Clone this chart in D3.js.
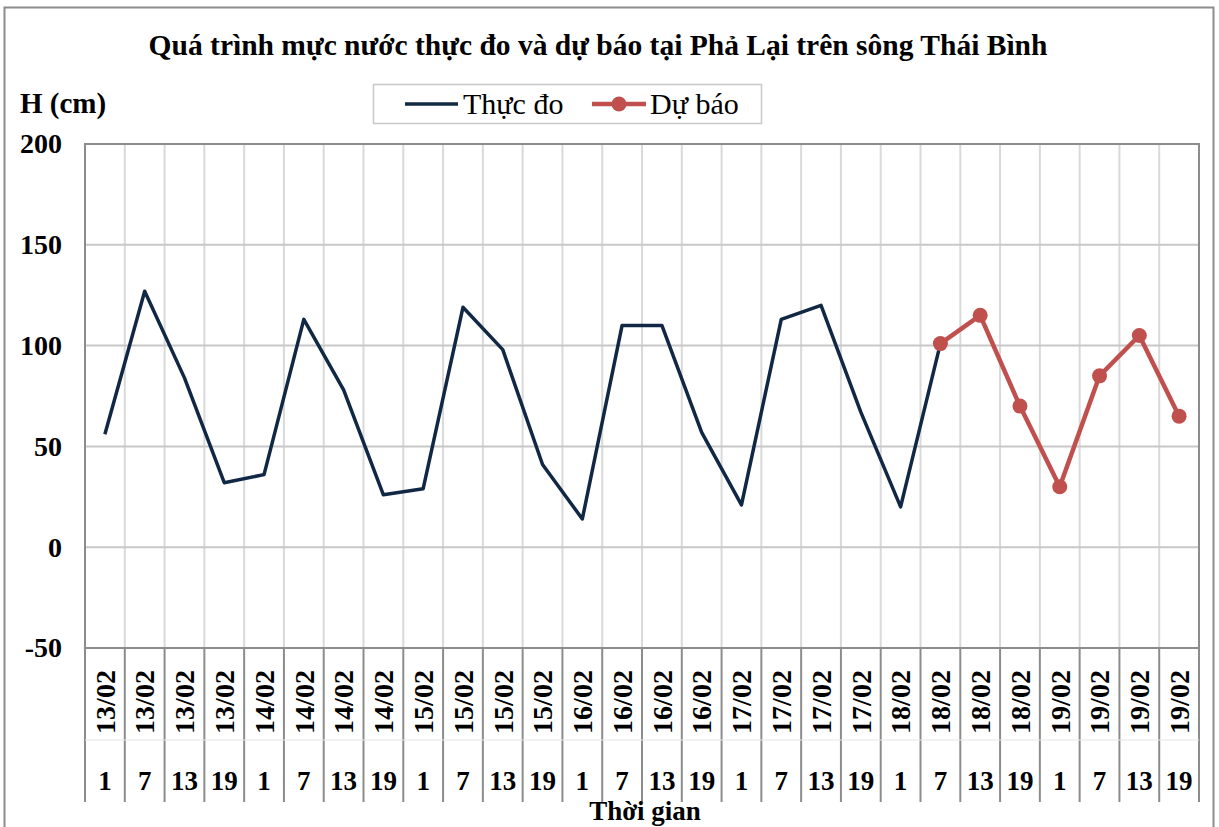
<!DOCTYPE html>
<html><head><meta charset="utf-8">
<script src="https://cdn.jsdelivr.net/npm/d3@7"></script>
<style>body{margin:0;background:#fff}svg{display:block}text{font-family:"Liberation Serif","Times New Roman",serif}</style>
</head><body>
<svg id="c" width="1219" height="827"></svg>
<script>
const dates = ["13/02","13/02","13/02","13/02","14/02","14/02","14/02","14/02","15/02","15/02","15/02","15/02","16/02","16/02","16/02","16/02","17/02","17/02","17/02","17/02","18/02","18/02","18/02","18/02","19/02","19/02","19/02","19/02"];
const hours = ["1","7","13","19","1","7","13","19","1","7","13","19","1","7","13","19","1","7","13","19","1","7","13","19","1","7","13","19"];
const observed = [56,127,84,32,36,113,78,26,29,119,98,41,14,110,110,57,21,113,120,67,20,101,null,null,null,null,null,null];
const forecast = [null,null,null,null,null,null,null,null,null,null,null,null,null,null,null,null,null,null,null,null,null,101,115,70,30,85,105,65];
const yTicks = [-50,0,50,100,150,200];
const title = "Quá trình mực nước thực đo và dự báo tại Phả Lại trên sông Thái Bình";

const svg = d3.select("#c");
const L = 85, R = 1199, T = 144, B = 648;
const idx = d3.range(dates.length);
const x = d3.scaleBand().domain(idx).range([L, R]);
const y = d3.scaleLinear().domain([-50, 200]).range([B, T]);

// outer border
svg.append("rect").attr("x",4.5).attr("y",7.5).attr("width",1209).attr("height",830).attr("fill","none").attr("stroke","#8c8c8c").attr("stroke-width",2);

// title
svg.append("text").attr("x",598).attr("y",55).attr("text-anchor","middle").attr("font-weight","bold").attr("font-size",29.5).text(title);
svg.append("text").attr("x",20).attr("y",113).attr("font-weight","bold").attr("font-size",29).text("H (cm)");

// gridlines
const g = svg.append("g");
g.selectAll(".vg").data(idx.slice(1)).join("line")
 .attr("x1",d=>x(d)).attr("x2",d=>x(d)).attr("y1",T).attr("y2",B)
 .attr("stroke","#d9d9d9").attr("stroke-width",2);
g.selectAll(".hg").data(yTicks).join("line")
 .attr("x1",L).attr("x2",R).attr("y1",d=>y(d)).attr("y2",d=>y(d))
 .attr("stroke","#c8c8c8").attr("stroke-width",2);

// plot border
svg.append("rect").attr("x",L).attr("y",T).attr("width",R-L).attr("height",B-T).attr("fill","none").attr("stroke","#8c8c8c").attr("stroke-width",2);

// y axis
const ya = svg.append("g").attr("transform",`translate(${L},0)`)
 .call(d3.axisLeft(y).tickValues(yTicks).tickSize(0).tickPadding(23).tickFormat(d=>String(d)));
ya.select(".domain").remove();
ya.selectAll("text").attr("font-family","Liberation Serif").attr("font-weight","bold").attr("font-size",28).attr("fill","#000");

// x axis separators
svg.selectAll(".xs").data(idx.concat([dates.length])).join("line")
 .attr("x1",d=>d<dates.length?x(d):R).attr("x2",d=>d<dates.length?x(d):R)
 .attr("y1",B).attr("y2",802).attr("stroke","#8c8c8c").attr("stroke-width",2);
svg.append("line").attr("x1",L).attr("x2",R).attr("y1",740).attr("y2",740).attr("stroke","#e6e6e6").attr("stroke-width",1);

const xa = svg.append("g").attr("transform",`translate(0,${B})`).call(d3.axisBottom(x).tickSize(0).tickFormat(d=>dates[d]));
xa.select(".domain").remove();
xa.selectAll(".tick text").attr("font-family","Liberation Serif").attr("font-weight","bold").attr("font-size",28).attr("fill","#000")
 .attr("transform","rotate(-90)").attr("text-anchor","middle").attr("x",-54).attr("y",0).attr("dy","0.35em");
svg.selectAll(".hr").data(idx).join("text")
 .attr("x",d=>x(d)+x.bandwidth()/2).attr("y",790).attr("text-anchor","middle")
 .attr("font-weight","bold").attr("font-size",27).text(d=>hours[d]);
svg.append("text").attr("x",645).attr("y",820).attr("text-anchor","middle").attr("font-weight","bold").attr("font-size",27).text("Thời gian");

// lines
const cx = d=>x(d)+x.bandwidth()/2;
const line = d3.line().defined(d=>d[1]!=null).x(d=>cx(d[0])).y(d=>y(d[1]));
svg.append("path").datum(idx.map(i=>[i,observed[i]])).attr("d",line).attr("fill","none").attr("stroke","#112845").attr("stroke-width",3.5).attr("stroke-linejoin","round");
svg.append("path").datum(idx.map(i=>[i,forecast[i]])).attr("d",line).attr("fill","none").attr("stroke","#c0504d").attr("stroke-width",4.5).attr("stroke-linejoin","round");
svg.selectAll(".mk").data(idx.filter(i=>forecast[i]!=null)).join("circle")
 .attr("cx",cx).attr("cy",i=>y(forecast[i])).attr("r",7.5).attr("fill","#c0504d");

// legend
const lg = svg.append("g");
lg.append("rect").attr("x",373.5).attr("y",84.5).attr("width",388).attr("height",39).attr("fill","#fff").attr("stroke","#c8c8c8").attr("stroke-width",1.5);
lg.append("line").attr("x1",405).attr("x2",458).attr("y1",104).attr("y2",104).attr("stroke","#112845").attr("stroke-width",3.5);
lg.append("text").attr("x",463).attr("y",114).attr("font-size",30).text("Thực đo");
lg.append("line").attr("x1",592).attr("x2",646).attr("y1",104).attr("y2",104).attr("stroke","#c0504d").attr("stroke-width",4.5);
lg.append("circle").attr("cx",619).attr("cy",104).attr("r",7.5).attr("fill","#c0504d");
lg.append("text").attr("x",650).attr("y",114).attr("font-size",30).text("Dự báo");
</script>
</body></html>
